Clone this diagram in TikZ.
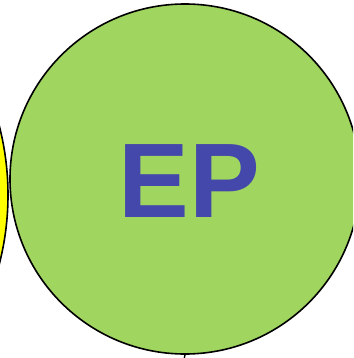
\documentclass[tikz,border=0pt]{standalone}
\usepackage{fontspec}
\setmainfont{Liberation Sans}
\definecolor{epgreen}{RGB}{160,214,96}
\definecolor{epblue}{RGB}{67,72,170}
\definecolor{epyellow}{RGB}{255,255,0}
\begin{document}
\begin{tikzpicture}[x=1pt,y=-1pt,
  disc/.style={circle,draw=black,line width=1.6pt,inner sep=0pt},
  label/.style={text=epblue,font=\bfseries\fontsize{106}{106}\selectfont,inner sep=0pt}]
\useasboundingbox (0,0) rectangle (353,358);
\begin{scope}
\clip (0,0) rectangle (353,358);
\node[disc,fill=epyellow,minimum size=552pt] (yel) at (-268,195) {};
\node[disc,fill=epgreen,minimum size=350pt] (ep) at (185,179) {};
\coordinate (tick) at (184,360);
\draw[line width=1.4pt] (ep.south) -- (tick);
\node[label,anchor=base] (txt) at (189,217) {EP};
\end{scope}
\end{tikzpicture}
\end{document}
